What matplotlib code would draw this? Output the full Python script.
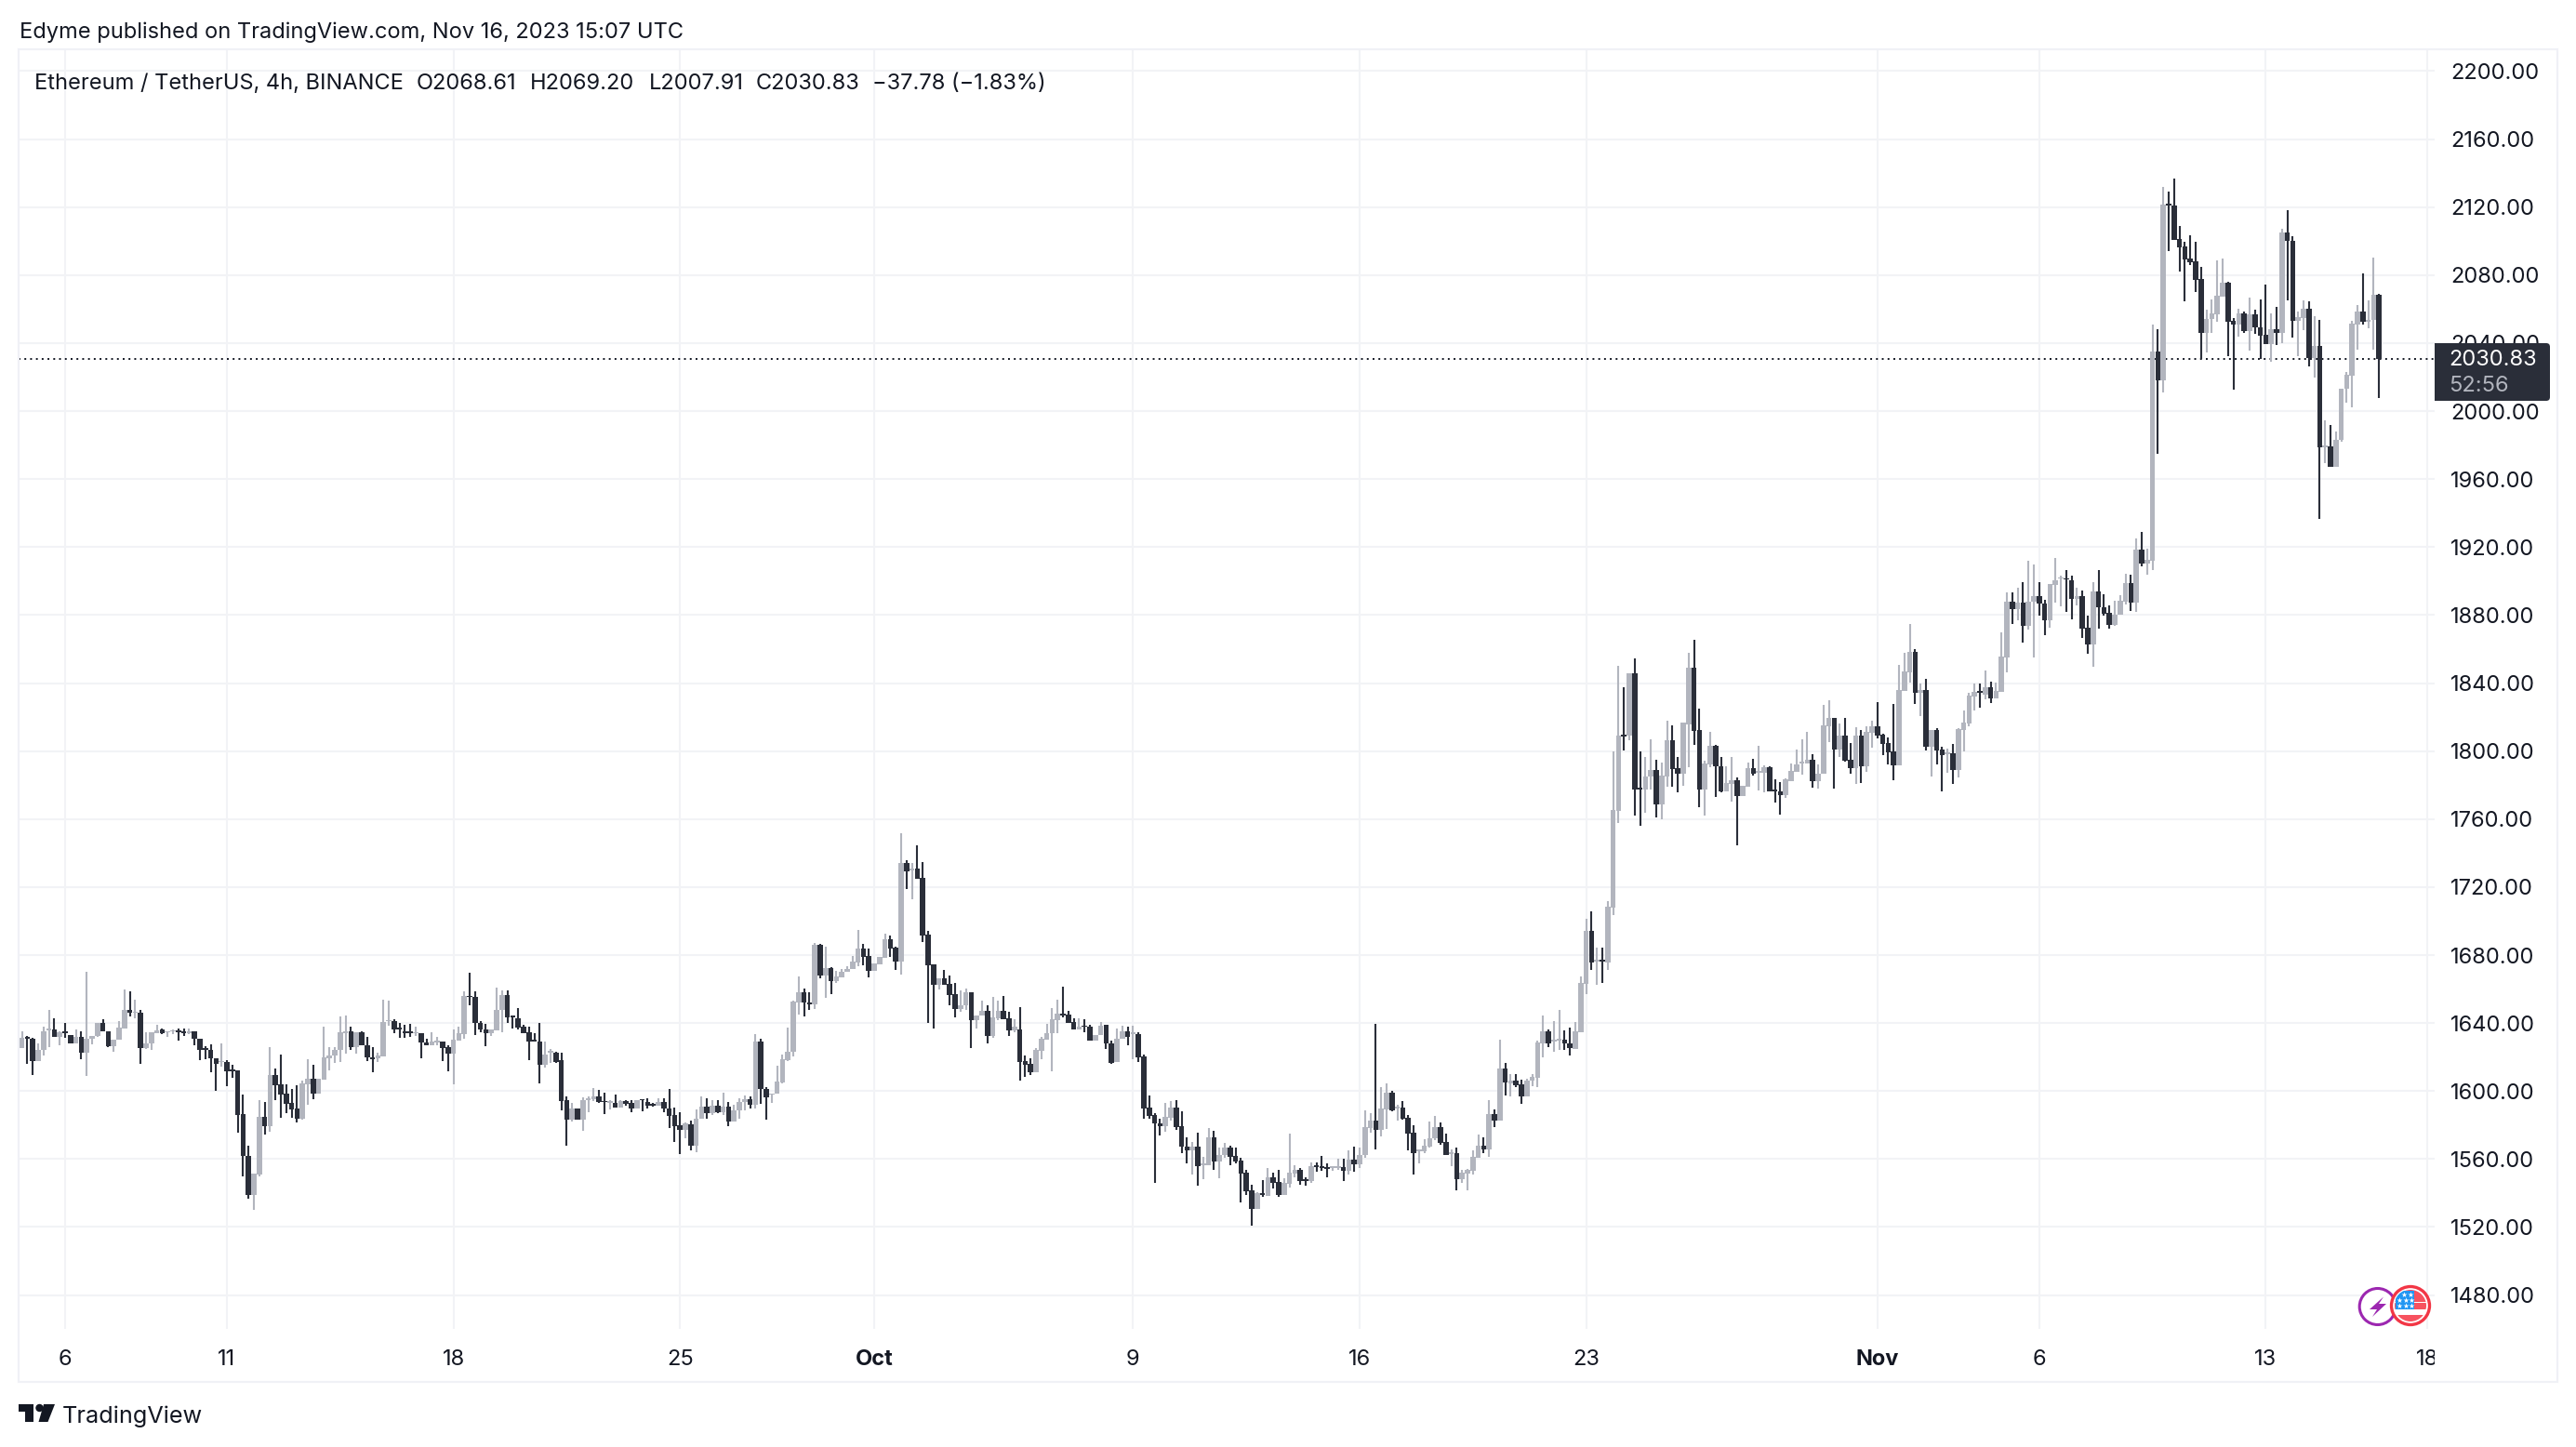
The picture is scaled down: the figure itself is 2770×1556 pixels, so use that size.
import matplotlib
matplotlib.use('Agg')
import matplotlib.pyplot as plt
from matplotlib.patches import Rectangle, Circle, Polygon, FancyBboxPatch
from matplotlib.transforms import Bbox

plt.rcParams['font.family'] = ['Inter', 'DejaVu Sans']

W, H = 2770, 1556
UP = '#b2b5be'
DOWN = '#2a2e39'
GRID = '#f2f3f6'
TEXT = '#131722'

# 4h candles, ETH/USDT, first one is Sep 4 16:00
opens = [
    1625.4,1631.5,1630.5,1617.7,1624.4,1635.8,1636,1632,1634.8,1633,
    1628,1632,1622.6,1631,1632.3,1640,1635.4,1626.3,1630,1636.6,
    1647.6,1646,1646.3,1625.4,1628,1634,1636,1634.4,1635,1635.2,
    1635,1634,1635,1631,1625,1624,1619.5,1617,1617,1612.4,
    1612,1586.2,1562,1538.8,1551,1584.7,1579.5,1609.3,1604,1598.4,
    1593,1589.5,1583.5,1604,1607.5,1598.4,1606.8,1619.5,1621,1624.4,
    1634,1635.4,1625.7,1634.5,1627,1620,1619.5,1620.3,1641,1641.4,
    1637,1635,1634.8,1633.8,1633.8,1628.8,1627,1628.6,1629,1625.7,
    1622,1629.5,1633.5,1656.2,1655.4,1640.3,1636.3,1634,1635.8,1647.6,
    1656.3,1644,1642.7,1637.8,1634.5,1630,1629,1615.3,1622.5,1622.8,
    1618,1594.4,1583,1589.6,1583,1594.4,1595.2,1596.6,1593.8,1593,
    1592.8,1590.2,1594,1593,1589.6,1594.8,1593.3,1592.4,1591.3,1593.3,
    1590,1586,1580,1577,1580.5,1568,1583.6,1591,1587.2,1591.4,
    1587.8,1591,1582,1588.7,1593.3,1595.4,1592,1629.3,1601.3,1597.8,
    1598.4,1605.3,1618.4,1622.9,1652,1657.9,1652.2,1650.8,1686,1667.8,
    1672.4,1664.6,1667,1670.2,1671.6,1675.8,1683.9,1679.5,1670.7,1674.6,
    1678.6,1689.3,1684.4,1676.2,1734.1,1730,1730.9,1725.4,1692,1674.4,
    1662.5,1666.2,1662.9,1657,1648.5,1650.2,1657.9,1641.6,1644.3,1647,
    1632.4,1643,1647,1642.8,1635.7,1636.4,1617.7,1616,1610.9,1623.7,
    1630.2,1633.9,1641.9,1645.5,1644.8,1640.6,1636,1638.3,1637.9,1629.5,
    1633,1638.8,1628.2,1616.9,1630.6,1635.2,1633.5,1633.4,1620.3,1590.3,
    1585.9,1581.2,1579.5,1584.3,1590.1,1579.3,1567.5,1565.3,1567.1,1556.2,
    1556.6,1572.8,1558.6,1562.2,1566.8,1561.7,1559,1552,1541.6,1530.7,
    1540,1538.5,1549.3,1546.6,1538.9,1545.6,1551.7,1553.7,1548,1547,
    1556.2,1555.8,1555.1,1554.7,1554.8,1555.1,1553.1,1559.9,1556.9,1562.6,
    1578.4,1582.6,1577.2,1589.4,1599,1589.7,1590.3,1584.3,1575.3,1564.8,
    1564.8,1567.3,1572,1578.6,1569.9,1563.1,1563.5,1548.2,1551.5,1552.9,
    1560.8,1567.7,1565.9,1586.3,1582.6,1613,1604.7,1606.3,1603.8,1597,
    1606,1607.9,1628.2,1634.9,1629.4,1629.8,1630.2,1628.3,1625,1634.5,
    1663,1694,1676.4,1677.1,1675.8,1708,1765,1809.7,1809.1,1845.7,
    1778.3,1777.2,1784.9,1788.9,1768.7,1785.1,1806.4,1790,1786.7,1815.8,
    1849,1812.4,1777.6,1792.2,1803.1,1791.3,1776.1,1780.9,1782.9,1773.6,
    1779.1,1789.8,1787.4,1787.4,1790.5,1777.2,1776.3,1774.1,1782.3,1787.8,
    1792.9,1792.9,1794.7,1782.3,1786.7,1814.8,1819.3,1800.9,1809.1,1794.7,
    1790,1809.1,1791.1,1810.7,1814.6,1809.7,1804.7,1799.6,1791.8,1835.3,
    1846.4,1858.3,1834.2,1835.7,1802.7,1812.4,1800.9,1798.4,1798.7,1788.9,
    1812.6,1816.2,1832.1,1835.2,1833.3,1837.5,1831.1,1834.8,1854.9,1888,
    1883.6,1887.3,1873.4,1887.7,1891.3,1886.9,1877.1,1897.9,1901.3,1901.5,
    1900.4,1889.5,1891.3,1872.7,1862.5,1894,1884.7,1881.3,1874,1880,
    1888,1898.6,1887.1,1918.6,1910.4,1912.2,2034.8,2018,2121.8,2120.9,
    2101.2,2096.8,2089.5,2088,2077.7,2046.1,2054.4,2057.1,2067.3,2075.5,
    2053.1,2050.9,2057.3,2047.2,2056.7,2049,2044.9,2039.4,2048,2046.1,
    2105,2100.3,2053.1,2054.9,2060.4,2031.2,2038.5,1978.7,1979.2,1967.4,
    1982.9,2013,2020.8,2050.9,2058.5,2052.7,2053.4,2068.61,
]
closes = [
    1631.2,1630.7,1617.7,1624.4,1635.4,1636.3,1632,1634.5,1634,1628,
    1632,1622.6,1631,1632.6,1640,1635.4,1626.3,1630,1637.2,1647.6,
    1646,1646.7,1625.4,1628,1634.5,1635.8,1634,1635,1635.4,1634.8,
    1634,1635.4,1631,1624.4,1624.4,1619.3,1616,1617.5,1611.7,1611.7,
    1585.8,1562,1538.8,1551.6,1584.7,1579.5,1609.3,1603.5,1598,1592.6,
    1589,1583.8,1604.4,1607.5,1598.4,1607,1620,1621,1624.4,1634.5,
    1635.4,1625.7,1634.5,1626.8,1620,1618.8,1620.8,1640.8,1641.7,1636.3,
    1636.3,1634.3,1634.3,1634.5,1628.6,1627,1629,1629.4,1625.4,1622,
    1630,1633.8,1656,1655.3,1640,1636,1634,1636,1647.6,1656.3,
    1643.6,1643.4,1637.2,1634,1629,1629.4,1615.3,1621.7,1622.8,1617.3,
    1594.2,1583,1589.6,1583,1594.4,1595.5,1596.6,1593.3,1593.3,1593.4,
    1590.2,1594,1592.6,1589.6,1594.4,1594.4,1591.5,1591.3,1593.3,1589.6,
    1585.6,1579.6,1577,1581,1568,1584,1591,1587.2,1591.4,1587.8,
    1591,1582,1588.7,1593.8,1595.4,1591.8,1629.3,1601,1596.5,1598.7,
    1605.8,1618.8,1623.3,1652.4,1657.9,1652,1650.8,1686,1667.8,1672.2,
    1664.6,1667.4,1670.3,1672,1676.2,1683.9,1679,1670.7,1675,1679,
    1689.3,1684,1676.2,1734.1,1729.4,1730.9,1725,1691.7,1674,1662.5,
    1666.2,1662.5,1656.7,1648.5,1650.5,1657.9,1641.6,1644.7,1647,1632.4,
    1643.3,1647,1642.4,1635.7,1637.9,1617.3,1615.7,1610.9,1624,1630.6,
    1634.2,1642.4,1645.5,1644.3,1640.3,1636,1637.9,1637.7,1629.5,1633,
    1638.4,1627.9,1616.6,1631,1635.2,1632.1,1634,1620,1589.9,1585.4,
    1581.2,1579.5,1584.6,1590.1,1579,1567.5,1565.3,1567.5,1555.8,1557.7,
    1572.8,1558.6,1562.6,1566.8,1561.3,1558.4,1551.7,1541.1,1530.7,1539.8,
    1539.1,1549.3,1546.2,1538.9,1546.2,1552,1553.5,1547.1,1547.1,1555.8,
    1555.5,1554.8,1554.4,1555.1,1555.5,1553.1,1559.9,1556.9,1562.6,1578.6,
    1582.6,1577.2,1589.7,1599,1588.5,1590.8,1583.5,1575,1563.5,1565.5,
    1567.9,1572.2,1578.6,1569.3,1562.6,1563.9,1548.2,1552,1553.5,1561.1,
    1567.7,1565.7,1586.3,1582.6,1613,1605,1606.3,1603.2,1597,1606.3,
    1608.3,1628.5,1634.9,1628.2,1630.2,1630.5,1628.2,1625.4,1634.9,1663.6,
    1694,1675.8,1677.1,1676.4,1708.2,1765.4,1809.1,1808.7,1845.7,1777.6,
    1777.6,1784.9,1788.9,1768.7,1785.6,1806.4,1789.6,1786.7,1816.6,1849,
    1812,1777.6,1792.5,1803.1,1790.9,1776.1,1781,1782.7,1773.6,1779.4,
    1789.8,1786.7,1788.2,1790.5,1776.5,1776.5,1774.1,1783.2,1788.2,1792.2,
    1793.6,1794.7,1782.3,1786.9,1815.1,1819.7,1800.9,1809.1,1794.4,1790,
    1809.1,1791.1,1811.1,1814.6,1809.3,1804.2,1799.3,1791.8,1835.7,1846.8,
    1858.3,1834.2,1835.7,1802.7,1812.4,1800.5,1797.6,1799.5,1788.9,1812.9,
    1816.6,1832.4,1834.8,1834.4,1837.5,1831.1,1835.2,1855.6,1888,1883.6,
    1887.3,1873.4,1888,1891.3,1886.6,1877.1,1898.2,1900.4,1901.9,1900.9,
    1889.5,1891.3,1872.2,1862.5,1894,1884.4,1880.9,1874,1880.4,1888.6,
    1898.6,1887.1,1918.6,1910.4,1912.6,2034.8,2018,2121.5,2121,2100.9,
    2096.5,2089.2,2087.7,2077.3,2046.1,2054.4,2057.3,2067.7,2075.5,2052.7,
    2050.9,2057.3,2047.2,2056.7,2049.2,2044.5,2039.4,2048.2,2046.1,2105,
    2099.9,2053.1,2055.3,2060.4,2031.2,2038.5,1978.7,1979.6,1967.4,1982.9,
    2013.3,2021.2,2051.3,2058.5,2052.7,2053.4,2068.2,2030.83,
]
highs = [
    1635.4,1632.6,1631.2,1628,1638,1647.6,1643,1635.4,1640,1633,
    1636,1635,1670,1632.6,1640,1642,1635.4,1630,1641,1660,
    1658.5,1653.6,1647.6,1634.5,1634.5,1639,1636.6,1635,1636,1637,
    1637,1636.6,1635.4,1631,1626.3,1627.7,1619.5,1628,1618.4,1615.3,
    1612.2,1597.7,1568,1551.6,1594.4,1593.5,1625.7,1613,1621.7,1604,
    1601.3,1603.5,1606,1619,1615.3,1607,1637.8,1625.7,1625.7,1644,
    1644.3,1637.8,1634.5,1635.4,1631.7,1625.7,1622.6,1653.6,1653,1642,
    1640.3,1639,1639.4,1637.8,1633.8,1630.8,1634.8,1631.7,1629,1627,
    1636,1638,1658.5,1669.4,1658.5,1641.4,1639.4,1636,1660.7,1659,
    1659,1644,1649,1638.8,1638,1634,1640.3,1629.4,1625,1623,
    1622.4,1596.6,1593,1590,1596.2,1597,1602,1600.6,1598.8,1594.4,
    1597.7,1594.4,1594.4,1594.4,1594.8,1594.8,1596,1593,1596,1596,
    1601,1590.5,1587.8,1581.4,1582.9,1589.3,1597,1596,1594.5,1594.7,
    1599.3,1593.3,1592,1595.6,1597.4,1596.9,1633.7,1631,1602.4,1598.7,
    1615,1621.5,1637.5,1653.3,1667.6,1660.4,1658.2,1687.2,1686.3,1685,
    1672.8,1670.6,1671.6,1673.4,1679.5,1694.8,1686.6,1683.9,1675,1679,
    1692.6,1691.5,1684.8,1751.4,1735.8,1734.2,1744.5,1734.5,1694,1674.4,
    1666.2,1671.3,1668,1663.7,1659.3,1660.4,1658.3,1644.7,1653.4,1650.3,
    1655.5,1653.4,1656,1646.5,1642.4,1649.2,1621,1619.3,1625.1,1632,
    1639.3,1648.8,1653.7,1661.6,1647.4,1643,1643,1642.4,1638.8,1633,
    1640.6,1639.2,1629.5,1637,1638.4,1637.9,1638.6,1634.4,1621.2,1597.2,
    1586.8,1583.5,1593,1594.1,1594.5,1588.1,1573,1570.2,1575.3,1561.1,
    1578.1,1576.6,1566.8,1569.3,1568,1566.8,1560.6,1553.5,1544.9,1540.4,
    1547.6,1554.8,1552,1553.7,1548.6,1575,1556.2,1554.8,1549.3,1558,
    1558,1561.7,1557.5,1555.5,1560.2,1560.2,1565,1567.1,1566.8,1588.6,
    1586.8,1639.5,1602.3,1604.5,1600.1,1591.9,1594.1,1585.9,1579.9,1565.5,
    1571.7,1582.1,1585.4,1581.3,1575,1565.7,1566.8,1553.5,1554.4,1565.3,
    1574.4,1572.6,1594.5,1589,1630,1616.3,1609.8,1609.8,1606.7,1607.2,
    1609.8,1629.6,1644.4,1636,1641,1647.7,1635.6,1637.3,1640.4,1667.3,
    1701.3,1705.5,1684.2,1684.2,1712,1799.6,1850,1837.5,1845.7,1854.5,
    1799.6,1796.5,1806.9,1794.7,1793.3,1817.9,1815.1,1796.5,1816.9,1857.9,
    1865.4,1825,1794.2,1811.1,1803.6,1796.5,1791.1,1796.5,1784.5,1779.4,
    1793.3,1795.4,1803.1,1791.8,1791.1,1783.2,1781.8,1784.2,1792.5,1800.9,
    1806.9,1811.1,1798,1792.2,1827,1829.7,1819.3,1816,1819.3,1804.7,
    1814,1812.4,1814.8,1817.9,1828.8,1810,1807.8,1827.5,1850.6,1857.7,
    1874.7,1859.7,1839.7,1842.4,1812.4,1813.3,1802.4,1801.5,1804.2,1813.3,
    1823.7,1834.2,1839.7,1839.7,1847.4,1840.6,1840.3,1869.8,1893.5,1893.5,
    1896.2,1899.5,1912.1,1909.9,1899.5,1889.1,1898.2,1913.7,1903.1,1906.6,
    1903.1,1896.2,1894.4,1879.8,1899.5,1906.6,1892.4,1885.8,1888.6,1891.8,
    1904.4,1903.9,1925.2,1929,1919.2,2050.7,2048.2,2131.9,2129.1,2136.6,
    2109,2099.6,2103.2,2099.6,2084.6,2059.8,2065.8,2088.6,2089.5,2075.9,
    2054.5,2060,2058.4,2066.8,2059.5,2065.5,2074.4,2057.3,2061.3,2107.2,
    2118.2,2102.9,2058.5,2064.9,2064.6,2055.8,2053.6,1994.5,1991.6,1988,
    2013.3,2023,2053,2062.2,2080.8,2064.9,2090.1,2069.2,
]
lows = [
    1625.4,1615.9,1609.3,1617.7,1620.8,1625.7,1632,1626.8,1631.2,1628,
    1628,1619,1609,1627.5,1632,1635,1626,1623,1630,1636.6,
    1644,1643,1616,1625,1624.4,1634,1633.5,1631.7,1633.5,1629.5,
    1632.6,1633.5,1626.8,1618,1619,1611,1600,1614.4,1602.8,1607.7,
    1575.4,1549.8,1536.6,1530,1549.8,1574.4,1576.2,1594.8,1584.4,1587,
    1584.4,1581.6,1583,1592.2,1595,1598.4,1606.8,1612.2,1616.6,1617,
    1622,1624.3,1622,1626.8,1617.7,1611.2,1617,1620.3,1638.5,1634,
    1631.2,1631.2,1631.7,1632.2,1619.2,1627,1627,1626.8,1617.7,1611.5,
    1604,1629.5,1630.8,1650.3,1633,1634.8,1626.3,1632.3,1635.8,1634.8,
    1640,1636.6,1636,1634,1618,1629,1604.4,1614,1616.6,1616.6,
    1588.6,1568,1582,1583,1576.5,1587.5,1594,1593,1586.4,1589.3,
    1590.2,1590.2,1591.6,1587.5,1589.6,1588,1590,1591,1591.3,1587.8,
    1578,1570,1562.7,1572,1565.4,1563.8,1583.6,1584,1585.8,1587,
    1585.8,1579.6,1582,1583.6,1588.7,1589.6,1590,1592.3,1583.3,1593,
    1598.4,1604.4,1617.5,1620.5,1645,1644,1647.8,1648.4,1666.3,1655,
    1657.2,1663.7,1667,1670.2,1671.6,1673.5,1673.8,1667,1670.7,1674.6,
    1678.6,1679,1671.3,1668.6,1718.7,1712.8,1725,1687.7,1640.3,1637,
    1659.8,1662.5,1650.7,1643.4,1646.5,1647.6,1625.5,1636.6,1644.3,1628.2,
    1631.5,1641.8,1642.4,1632.4,1634.8,1606.4,1608.2,1609.7,1610.9,1618.8,
    1630.2,1611.5,1633.9,1643.4,1640.3,1636,1636,1634.8,1629.5,1629.5,
    1633,1624.6,1616,1616.9,1630.6,1627,1618.8,1617.2,1583.5,1583.5,
    1546.2,1574,1576.2,1582.6,1577.2,1563.5,1557.7,1550.7,1544.4,1548.2,
    1556.6,1553.7,1548.9,1560.8,1556.6,1557.5,1534.7,1538.9,1521,1530.7,
    1538,1538.5,1542.7,1538,1538.9,1543.5,1549.3,1544.9,1544.4,1546.2,
    1552.6,1553.1,1549.3,1552.9,1553.5,1547.1,1550.7,1552.6,1554.9,1560.8,
    1575.3,1565.7,1573.5,1577.7,1588.1,1582.6,1583,1565.3,1551.1,1557.5,
    1563.5,1566.8,1571.3,1568.4,1562.6,1555.8,1541.6,1546.2,1541.6,1551.1,
    1560.8,1563.5,1561.3,1578.8,1582.6,1597.4,1596.8,1602.3,1592.6,1597,
    1603,1602.5,1620,1625.8,1623.2,1624.2,1624.3,1620.9,1625,1634.5,
    1656.9,1671.3,1662.3,1663.6,1671.3,1703.4,1757.7,1800.5,1806.6,1762.3,
    1756.3,1763.8,1777.4,1761,1760.1,1779.2,1779,1776,1779.6,1790.5,
    1803.8,1767,1762.3,1790.7,1773.2,1775.8,1776.1,1770.5,1744.8,1773.6,
    1779.1,1785.6,1776.9,1775.8,1776.5,1769.9,1762.7,1772.5,1782.3,1787.8,
    1786.3,1792.9,1778.7,1778.1,1786.7,1805.1,1778.1,1796.5,1793.8,1786.7,
    1780.9,1781.2,1787.8,1802,1807.5,1797.6,1792.2,1783.1,1791.8,1835.3,
    1840.3,1827.9,1820.6,1800.5,1785.1,1792.2,1776.5,1787.4,1780.9,1784.5,
    1799.8,1814.8,1823.9,1825.5,1830.6,1828.2,1831.1,1834.8,1846.1,1874.9,
    1877.1,1864,1871.6,1855.2,1879.8,1868,1872.7,1887.3,1884.9,1881.6,
    1877.6,1885.5,1866.7,1857.4,1849.8,1872.2,1879.5,1872.2,1873.4,1880,
    1886.4,1882.6,1881.6,1908.4,1904,1906.7,1975,2011.1,2094.1,2100.9,
    2082.3,2064.7,2085.9,2070,2030.6,2034.5,2046.1,2052.7,2067.3,2032.5,
    2012.4,2044,2046.1,2035.8,2045.2,2030.6,2039.4,2028.8,2039,2039.8,
    2065.3,2043.4,2032.1,2047.6,2026.3,2019.7,1936.7,1969.2,1967.4,1967.4,
    1982,2005.1,2002,2036.3,2050.9,2048.5,2036.1,2007.91,
]

# bar index of each day label
tick_pos = [8, 38, 80, 122, 158, 206, 248, 290, 344, 374, 416, 446]
tick_labels = ['6', '11', '18', '25', 'Oct', '9', '16', '23', 'Nov', '6', '13', '18']
price_ticks = list(range(1480, 2201, 40))
last_price = 2030.83

ohlc_header = [(37, 'Ethereum / TetherUS, 4h, BINANCE'), (447.6, 'O2068.61'), (570, 'H2069.20'),
               (698, 'L2007.91'), (812.6, 'C2030.83'), (938, '\u221237.78 (\u22121.83%)')]

fig = plt.figure(figsize=(W / 100, H / 100), dpi=100, facecolor='white')

# plot area runs from x 20 to 2618 and y 53 to 1429 in pixels
ax = fig.add_axes([20 / W, 1 - 1429 / H, 2598 / W, 1376 / H])
ax.set_xlim(-0.62, 447.3)
ax.set_ylim(1460.1, 2212.8)
for s in ax.spines.values():
    s.set_visible(False)
ax.set_axisbelow(True)
ax.grid(True, color=GRID, linewidth=1.5)

xs = list(range(len(opens)))
colors = [UP if c >= o else DOWN for o, c in zip(opens, closes)]
ax.axhline(last_price, color=TEXT, linewidth=1.4, linestyle=(0, (1, 2.2)), zorder=1)
ax.vlines(xs, lows, highs, colors=colors, linewidth=1.5, zorder=2)
bottoms = [min(o, c) for o, c in zip(opens, closes)]
heights = [max(abs(c - o), 0.9) for o, c in zip(opens, closes)]
ax.bar(xs, heights, bottom=bottoms, width=0.97, color=colors, linewidth=0, zorder=3)

ax.yaxis.tick_right()
ax.set_yticks(price_ticks)
ax.set_yticklabels(['%.2f' % p for p in price_ticks])
ax.tick_params(axis='y', length=0, pad=12.5, labelsize=17, labelcolor=TEXT)
ax.set_xticks(tick_pos)
ax.set_xticklabels(tick_labels)
ax.tick_params(axis='x', length=0, pad=15.5, labelsize=17, labelcolor=TEXT)
for lab, name in zip(ax.get_xticklabels(), tick_labels):
    if name in ('Oct', 'Nov'):
        lab.set_fontweight('bold')
# last label gets cut at the plot edge like on the site
last = ax.get_xticklabels()[-1]
last.set_clip_on(True)
last.set_clip_box(Bbox.from_extents(0, 0, 2618, H))

# overlay in pixel coords for the frame, tag, header, logo and badges
deco = fig.add_axes([0, 0, 1, 1], zorder=5)
deco.set_xlim(0, W)
deco.set_ylim(H, 0)
deco.axis('off')
deco.patch.set_alpha(0)

deco.add_patch(Rectangle((20, 53), 2730, 1433, fill=False, edgecolor='#f0f1f6', linewidth=1.6))
deco.text(21, 35, 'Edyme published on TradingView.com, Nov 16, 2023 15:07 UTC',
          fontsize=17, color=TEXT, va='center')
for x, s in ohlc_header:
    deco.text(x, 90, s, fontsize=17, color=TEXT, va='center')

# price tag
deco.add_patch(FancyBboxPatch((2622, 373), 116, 54, boxstyle='round,pad=4,rounding_size=4',
                              facecolor=DOWN, edgecolor='none'))
deco.add_patch(Rectangle((2618, 369), 10, 62, facecolor=DOWN, edgecolor='none'))
deco.text(2633, 387, '%.2f' % last_price, fontsize=17, color='white', va='center')
deco.text(2633, 415, '52:56', fontsize=17, color='#b2b5be', va='center')

# TradingView logo
LOGO = '#131722'
deco.add_patch(Polygon([(20, 1510), (36, 1510), (36, 1529), (27, 1529), (27, 1518), (20, 1518)],
                       closed=True, facecolor=LOGO, edgecolor='none'))
deco.add_patch(Circle((42.5, 1514), 4.2, facecolor=LOGO, edgecolor='none'))
deco.add_patch(Polygon([(47, 1510), (59, 1510), (51.5, 1529), (41.5, 1529)],
                       closed=True, facecolor=LOGO, edgecolor='none'))
deco.text(67, 1523, 'TradingView', fontsize=18.2, color=LOGO, va='center')

# event badges
deco.add_patch(Circle((2556.7, 1405), 19.5, facecolor='white', edgecolor='#9c27b0', linewidth=2.2))
deco.add_patch(Polygon([(2563, 1394.5), (2548, 1408), (2556, 1408), (2551, 1416), (2566, 1402),
                        (2558, 1402)], closed=True, facecolor='#9c27b0', edgecolor='none'))
deco.add_patch(Circle((2592, 1404), 20.5, facecolor='white', edgecolor='#f23645', linewidth=2.4, zorder=3))
clip = Circle((2592, 1404), 17, transform=deco.transData)
for y0, hh, col in [(1387, 13, '#f7525f'), (1401, 7, '#f7525f'), (1414, 8, '#f7525f')]:
    r = Rectangle((2574, y0), 36, hh, facecolor=col, edgecolor='none', zorder=4)
    deco.add_patch(r)
    r.set_clip_path(clip)
canton = Rectangle((2576, 1388), 20, 20, facecolor='#2196f3', edgecolor='none', zorder=5)
deco.add_patch(canton)
canton.set_clip_path(Circle((2592, 1404), 17.5, transform=deco.transData))
star_x = [2585, 2592, 2580, 2587, 2593, 2580, 2587, 2593]
star_y = [1392, 1392, 1398, 1398, 1398, 1404, 1404, 1404]
deco.scatter(star_x, star_y, marker='*', s=20, color='white', linewidths=0, zorder=6)

fig.savefig('out.png', dpi=100, facecolor='white')
